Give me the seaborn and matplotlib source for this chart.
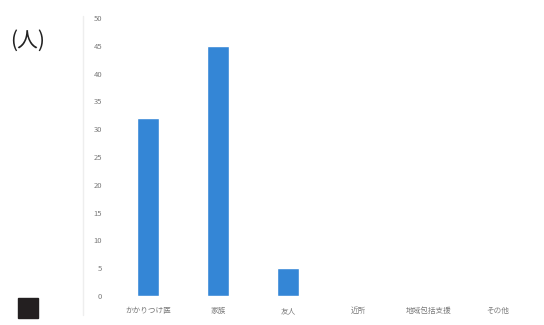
import matplotlib
matplotlib.use("Agg")
import matplotlib.pyplot as plt
import seaborn as sns
import pandas as pd

# data
categories = ["かかりつけ医", "家族", "友人", "近所", "地域包括支援", "その他"]
counts = [32, 45, 5, 0, 0, 0]
y_ticks = list(range(0, 51, 5))

df = pd.DataFrame({"category": categories, "count": counts})

sns.set_theme(style="white")
plt.rcParams["font.family"] = ["Noto Sans CJK JP", "DejaVu Sans"]

fig = plt.figure(figsize=(5.44, 3.25), dpi=100)
ax = fig.add_axes([0.208, 0.089, 0.772, 0.856])

sns.barplot(data=df, x="category", y="count", color="#3486d6",
            width=0.31, saturation=1, ax=ax)

ax.set_ylim(0, 50)
ax.set_yticks(y_ticks)
ax.set_xlabel("")
ax.set_ylabel("")
ax.tick_params(axis="both", labelsize=5.5, labelcolor="#7a7a7a", length=0, pad=8)
for s in ax.spines.values():
    s.set_visible(False)

# faint frame line of the embedded image
fig.add_artist(plt.Line2D([0.153, 0.153], [0.03, 0.95], color="#eeeeee", lw=1))

fig.text(0.018, 0.855, "(人)", fontsize=15, color="#222222", family=["Noto Sans CJK JP", "DejaVu Sans"])
fig.patches.append(plt.Rectangle((0.033, 0.022), 0.037, 0.06, transform=fig.transFigure,
                                 color="#231f20", figure=fig))

fig.savefig("out.png", dpi=100)
